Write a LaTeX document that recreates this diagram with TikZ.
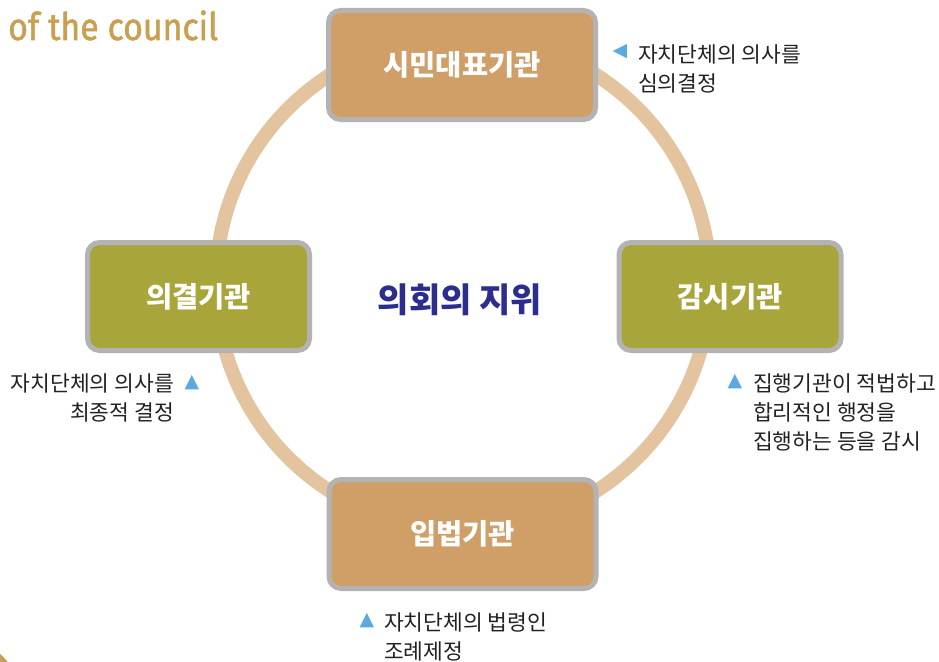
\documentclass[tikz,border=0pt]{standalone}
\usepackage{fontspec}
\setmainfont{Noto Sans CJK KR}
\newfontfamily\tri{DejaVu Sans}
\newfontfamily\titlefont[BoldFont={Fira Sans}, BoldFeatures={FakeBold=1.6}]{Fira Sans}
\definecolor{ring}{HTML}{E3C49F}
\definecolor{boxgray}{HTML}{B3B3B3}
\definecolor{tan}{HTML}{D09F68}
\definecolor{olive}{HTML}{A8A53A}
\definecolor{navy}{HTML}{2B2E8C}
\definecolor{gold}{HTML}{C9A052}
\definecolor{tblue}{HTML}{5AAAE0}
\definecolor{txt}{HTML}{222222}
\begin{document}
\begin{tikzpicture}[x=1pt,y=-1pt,
  organ/.style={draw=boxgray, line width=5pt, rounded corners=12pt, inner sep=0pt,
    text=white, font=\fontsize{28.5}{32}\selectfont\bfseries},
  tanbox/.style={organ, fill=tan, minimum width=267pt, minimum height=109pt},
  olivebox/.style={organ, fill=olive, minimum width=222pt, minimum height=108pt},
  note/.style={inner sep=0pt, text=txt, font=\fontsize{21.5}{29}\selectfont},
  marker/.style={inner sep=0pt, text=tblue, font=\tri\fontsize{19}{19}\selectfont}]
\useasboundingbox (0,0) rectangle (939,661);
% partial title and decoration
\node[inner sep=0pt, anchor=base west, text=gold, font=\titlefont\fontsize{38}{40}\selectfont\bfseries] (title) at (8,40) {\scalebox{0.89}[1]{of the council}};
\fill[gold] (-30,690) circle (47);
% ring
\draw[ring, line width=14pt] (463,283) circle (247);
% boxes
\node[tanbox] (rep) at (462,65) {시민대표기관};
\node[olivebox] (dec) at (198.5,296.5) {의결기관};
\node[olivebox] (aud) at (730,296.5) {감시기관};
\node[tanbox] (leg) at (462.5,534) {입법기관};
% centre title
\node[inner sep=0pt, text=navy, font=\fontsize{34}{36}\selectfont\bfseries] (pos) at (460,300) {의회의 지위};
% notes
\node[marker] (m1) at (620,52) {◀};
\node[note, anchor=west, align=left] (n1) at (638,69) {자치단체의 의사를\\심의결정};
\node[marker] (m2) at (192,383) {▲};
\node[note, anchor=east, align=right] (n2) at (174,398) {자치단체의 의사를\\최종적 결정};
\node[marker] (m3) at (735,382) {▲};
\node[note, anchor=west, align=left] (n3) at (753,412) {집행기관이 적법하고\\합리적인 행정을\\집행하는 등을 감시};
\node[marker] (m4) at (367,621) {▲};
\node[note, anchor=west, align=left] (n4) at (384,637) {자치단체의 법령인\\조례제정};
\end{tikzpicture}
\end{document}
